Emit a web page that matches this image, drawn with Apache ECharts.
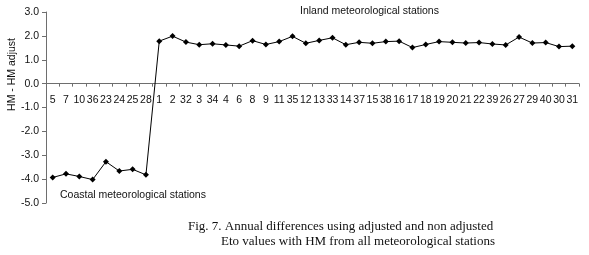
<!DOCTYPE html>
<html>
<head>
<meta charset="utf-8">
<script src="https://cdn.jsdelivr.net/npm/echarts@6/dist/echarts.min.js"></script>
<style>
html, body { margin: 0; padding: 0; background: #fff; }
#chart { width: 589px; height: 255px; }
</style>
</head>
<body>
<div id="chart"></div>
<script>
// station order along the x axis
var stations = ['5','7','10','36','23','24','25','28','1','2','32','3','34','4','6','8','9','11','35','12',
  '13','33','14','37','15','38','16','17','18','19','20','21','22','39','26','27','29','40','30','31'];
// HM - HM adjust
var diffs = [-3.93,-3.78,-3.89,-4.02,-3.27,-3.66,-3.59,-3.82,1.78,1.99,1.74,1.63,1.67,1.62,1.57,1.80,1.64,1.76,1.98,1.69,
  1.81,1.92,1.63,1.73,1.69,1.76,1.78,1.51,1.64,1.76,1.73,1.70,1.72,1.66,1.62,1.95,1.70,1.72,1.55,1.57];
var yTicks = { min: -5, max: 3, step: 1 };

var gridTop = 12, gridBottom = 52, chartH = 255;
var plotH = chartH - gridTop - gridBottom;
// the category axis is moved up to y = 0
var zeroOffset = plotH * (0 - yTicks.min) / (yTicks.max - yTicks.min);

var chart = echarts.init(document.getElementById('chart'));
chart.setOption({
  animation: false,
  grid: { left: 46, right: 10, top: gridTop, bottom: gridBottom },
  xAxis: {
    type: 'category',
    data: stations,
    boundaryGap: true,
    position: 'bottom',
    offset: -zeroOffset,
    axisLine: { show: true, onZero: false, lineStyle: { color: '#6e6e6e', width: 1 } },
    axisTick: { show: true, inside: false, length: 3, lineStyle: { color: '#6e6e6e' } },
    axisLabel: { interval: 0, margin: 11, color: '#111', fontSize: 10.5, fontFamily: 'Liberation Sans, Arial' },
    splitLine: { show: false }
  },
  yAxis: {
    type: 'value',
    min: yTicks.min,
    max: yTicks.max,
    interval: yTicks.step,
    axisLine: { show: true, lineStyle: { color: '#6e6e6e', width: 1 } },
    axisTick: { show: true, length: 4, lineStyle: { color: '#6e6e6e' } },
    axisLabel: {
      color: '#111', fontSize: 10.5, margin: 7, fontFamily: 'Liberation Sans, Arial',
      formatter: function (v) { return v.toFixed(1); }
    },
    splitLine: { show: false }
  },
  series: [{
    type: 'line',
    data: diffs,
    symbol: 'diamond',
    symbolSize: 6,
    itemStyle: { color: '#000' },
    lineStyle: { color: '#000', width: 1 }
  }],
  graphic: [
    { type: 'text', left: 7, top: 38, rotation: Math.PI / 2,
      style: { text: 'HM - HM adjust', font: '10.5px "Liberation Sans", Arial', fill: '#111' } },
    { type: 'text', left: 300, top: 6,
      style: { text: 'Inland meteorological stations', font: '10.5px "Liberation Sans", Arial', fill: '#111' } },
    { type: 'text', left: 60, top: 190,
      style: { text: 'Coastal meteorological stations', font: '10.5px "Liberation Sans", Arial', fill: '#111' } },
    { type: 'text', left: 188, top: 220,
      style: { text: 'Fig. 7. Annual differences using adjusted and non adjusted', font: '13px "Liberation Serif", "Times New Roman", serif', fill: '#111' } },
    { type: 'text', left: 221, top: 235,
      style: { text: 'Eto values with HM from all meteorological stations', font: '13px "Liberation Serif", "Times New Roman", serif', fill: '#111' } }
  ]
});
</script>
</body>
</html>
